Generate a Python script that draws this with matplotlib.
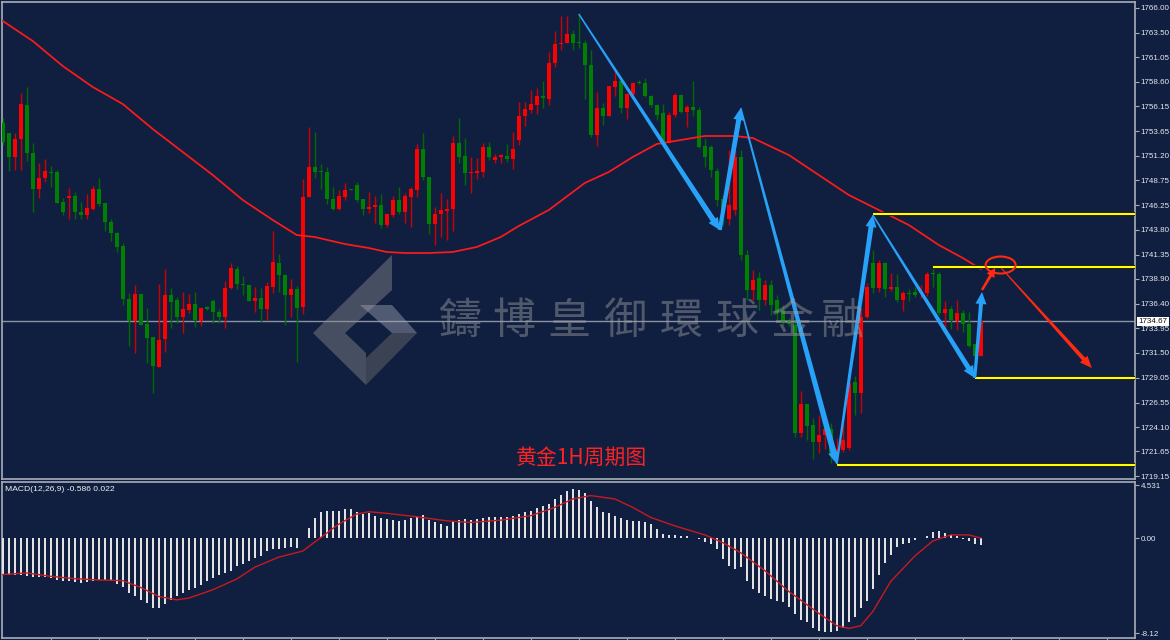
import numpy as np
import matplotlib
matplotlib.use('Agg')
import matplotlib.pyplot as plt
from matplotlib.patches import Polygon, Ellipse
from matplotlib.transforms import IdentityTransform, blended_transform_factory
import matplotlib.patheffects as pe

# 1H gold candles (open, high, low, close)
opens = [1754.5, 1753.5, 1751.1, 1752.9, 1756.3, 1751.5, 1747.9, 1749.0, 1749.6, 1749.6,
         1746.6, 1747.0, 1747.2, 1745.6, 1745.3, 1745.9, 1747.9, 1746.5, 1744.6, 1743.5,
         1742.2, 1736.9, 1734.7, 1737.4, 1734.4, 1733.1, 1730.1, 1732.9, 1737.3, 1736.8,
         1735.1, 1735.8, 1736.4, 1734.7, 1736.1, 1736.7, 1735.6, 1735.1, 1738.0, 1739.9,
         1738.4, 1738.3, 1736.7, 1737.0, 1735.9, 1738.1, 1740.5, 1739.3, 1737.3, 1737.9,
         1736.1, 1747.1, 1750.1, 1749.7, 1749.6, 1746.9, 1745.9, 1747.1, 1747.9, 1748.3,
         1746.9, 1745.9, 1746.1, 1746.3, 1744.3, 1745.3, 1746.8, 1745.6, 1747.1, 1747.8,
         1751.9, 1749.1, 1744.4, 1745.4, 1745.7, 1745.9, 1752.5, 1751.2, 1749.5, 1749.5,
         1749.6, 1752.1, 1750.8, 1751.1, 1751.2, 1750.9, 1752.8, 1755.2, 1755.8, 1756.3,
         1757.2, 1756.9, 1760.5, 1762.4, 1762.5, 1763.4, 1762.6, 1762.5, 1760.3, 1753.3,
         1756.0, 1755.2, 1758.1, 1758.7, 1756.0, 1757.4, 1758.6, 1758.5, 1757.2, 1756.3,
         1755.5, 1752.5, 1755.3, 1757.3, 1755.6, 1756.1, 1755.8, 1752.2, 1752.1, 1749.7,
         1746.9, 1744.9, 1745.8, 1751.1, 1741.3, 1737.8, 1739.0, 1736.8, 1738.3, 1736.8,
         1735.8, 1734.7, 1734.3, 1723.5, 1726.4, 1724.3, 1722.6, 1723.3, 1723.9, 1721.3,
         1721.8, 1722.0, 1728.6, 1727.5, 1735.1, 1740.5, 1738.0, 1740.5, 1737.9, 1738.1,
         1736.8, 1737.5, 1737.6, 1737.5, 1737.5, 1739.5, 1739.4, 1735.5, 1735.9, 1734.7,
         1735.5, 1734.4, 1732.4, 1731.2]
highs = [1755.0, 1753.5, 1753.5, 1757.5, 1758.1, 1752.5, 1750.5, 1750.9, 1750.2, 1749.8,
         1747.0, 1748.0, 1747.6, 1746.6, 1747.4, 1748.2, 1749.0, 1746.5, 1744.9, 1743.6,
         1742.5, 1737.5, 1738.3, 1737.4, 1736.0, 1733.1, 1738.4, 1739.9, 1738.0, 1737.1,
         1737.6, 1737.4, 1737.6, 1736.0, 1736.2, 1736.9, 1735.9, 1738.7, 1740.5, 1740.2,
         1739.2, 1738.3, 1738.1, 1738.0, 1738.6, 1743.7, 1741.4, 1739.4, 1738.9, 1738.2,
         1748.9, 1754.1, 1753.6, 1750.4, 1750.1, 1748.1, 1747.8, 1748.5, 1747.9, 1748.6,
         1746.9, 1747.6, 1747.2, 1747.4, 1745.4, 1747.2, 1748.1, 1747.5, 1748.1, 1752.4,
         1753.5, 1749.1, 1746.1, 1747.5, 1746.9, 1753.2, 1755.0, 1753.0, 1751.1, 1751.0,
         1752.5, 1752.6, 1751.4, 1751.4, 1752.4, 1753.6, 1756.6, 1756.6, 1757.8, 1758.0,
         1758.7, 1761.6, 1763.7, 1765.2, 1765.2, 1763.8, 1765.5, 1762.8, 1761.8, 1757.6,
         1756.5, 1758.2, 1759.6, 1758.8, 1757.5, 1758.6, 1758.8, 1759.0, 1757.3, 1756.4,
         1756.4, 1755.6, 1757.5, 1757.4, 1756.3, 1758.7, 1756.1, 1753.0, 1752.3, 1750.0,
         1747.3, 1751.8, 1751.8, 1751.8, 1741.8, 1739.8, 1739.6, 1738.8, 1738.8, 1737.3,
         1736.3, 1735.0, 1734.8, 1727.7, 1726.4, 1725.0, 1725.3, 1725.0, 1724.5, 1723.0,
         1724.6, 1729.5, 1729.2, 1736.0, 1738.5, 1741.8, 1740.8, 1740.6, 1739.5, 1739.4,
         1737.7, 1737.9, 1738.1, 1738.3, 1739.6, 1740.1, 1739.6, 1736.7, 1736.2, 1736.8,
         1735.8, 1735.6, 1732.4, 1734.7]
lows = [1752.3, 1749.7, 1749.8, 1749.8, 1750.7, 1745.6, 1747.0, 1748.6, 1748.1, 1746.5,
        1745.3, 1744.9, 1744.9, 1744.9, 1744.9, 1745.8, 1746.2, 1743.7, 1742.7, 1741.6,
        1736.3, 1732.2, 1731.5, 1734.3, 1730.5, 1727.5, 1730.1, 1731.6, 1734.0, 1734.5,
        1733.5, 1735.5, 1734.1, 1734.2, 1735.8, 1734.5, 1734.5, 1734.0, 1737.9, 1737.9,
        1737.3, 1736.7, 1735.6, 1734.6, 1734.8, 1737.5, 1737.6, 1734.3, 1735.1, 1730.6,
        1735.4, 1747.1, 1749.0, 1747.9, 1746.4, 1745.8, 1745.8, 1746.8, 1747.8, 1746.6,
        1745.3, 1745.5, 1744.5, 1744.0, 1744.1, 1745.1, 1745.4, 1744.5, 1744.1, 1747.1,
        1748.8, 1743.4, 1742.3, 1743.1, 1742.8, 1743.7, 1750.5, 1748.3, 1747.5, 1748.9,
        1749.1, 1750.8, 1750.5, 1750.5, 1750.6, 1749.9, 1752.3, 1754.2, 1755.5, 1755.4,
        1756.0, 1756.3, 1760.1, 1761.8, 1762.5, 1761.8, 1762.0, 1756.9, 1753.1, 1752.2,
        1754.3, 1755.2, 1757.2, 1755.5, 1754.9, 1757.1, 1758.4, 1757.1, 1756.1, 1754.8,
        1752.5, 1752.5, 1755.1, 1755.5, 1754.1, 1755.2, 1752.0, 1750.1, 1749.1, 1746.2,
        1744.3, 1744.3, 1745.3, 1740.8, 1736.8, 1736.8, 1735.8, 1736.3, 1735.3, 1734.8,
        1734.3, 1734.2, 1723.1, 1723.1, 1722.8, 1720.9, 1721.5, 1721.9, 1720.5, 1721.0,
        1721.6, 1721.8, 1725.3, 1725.5, 1735.0, 1737.5, 1737.6, 1737.1, 1737.7, 1736.6,
        1735.7, 1736.7, 1737.1, 1737.0, 1737.2, 1738.1, 1735.3, 1734.0, 1733.9, 1733.8,
        1733.6, 1732.1, 1730.1, 1731.2]
closes = [1752.6, 1751.1, 1752.9, 1756.4, 1751.5, 1747.9, 1749.0, 1749.7, 1749.5, 1746.5,
          1745.6, 1747.2, 1745.6, 1745.3, 1746.0, 1747.9, 1746.4, 1744.6, 1743.5, 1742.1,
          1736.9, 1734.7, 1737.4, 1734.3, 1733.0, 1730.2, 1732.8, 1737.3, 1736.6, 1735.1,
          1735.9, 1736.4, 1734.8, 1736.0, 1735.9, 1735.6, 1735.1, 1738.0, 1740.0, 1738.4,
          1738.3, 1736.7, 1737.0, 1735.9, 1738.2, 1740.6, 1739.3, 1737.3, 1737.9, 1736.0,
          1747.1, 1750.1, 1749.6, 1749.6, 1746.9, 1745.9, 1747.2, 1747.8, 1747.8, 1746.8,
          1745.9, 1746.1, 1746.3, 1744.3, 1745.4, 1746.8, 1745.6, 1747.2, 1747.9, 1751.9,
          1749.1, 1744.4, 1745.4, 1745.8, 1745.9, 1752.5, 1751.1, 1749.5, 1749.6, 1749.7,
          1752.1, 1751.1, 1751.1, 1751.3, 1750.9, 1751.9, 1755.2, 1755.9, 1756.4, 1757.2,
          1757.0, 1760.5, 1762.4, 1762.5, 1763.4, 1762.5, 1762.5, 1760.3, 1753.3, 1756.0,
          1755.2, 1758.2, 1758.7, 1756.0, 1757.4, 1758.5, 1758.5, 1757.2, 1756.3, 1755.3,
          1752.6, 1755.3, 1757.3, 1755.6, 1756.1, 1755.8, 1752.1, 1751.1, 1749.8, 1746.8,
          1745.6, 1746.3, 1751.1, 1741.3, 1737.8, 1738.8, 1736.8, 1738.3, 1736.3, 1735.6,
          1734.6, 1734.4, 1723.5, 1726.4, 1724.2, 1722.6, 1723.3, 1723.9, 1721.3, 1721.9,
          1722.8, 1728.5, 1727.5, 1735.1, 1738.1, 1738.0, 1740.5, 1737.9, 1738.1, 1736.8,
          1737.5, 1737.4, 1737.3, 1737.6, 1739.4, 1739.4, 1735.5, 1735.9, 1734.8, 1735.5,
          1734.4, 1732.2, 1731.2, 1734.67]

# moving average (red line), read at some candle positions
ma_idx = [0, 5, 10, 15, 20, 25, 30, 35, 40, 45, 49, 52, 57, 61, 64, 67, 71, 75, 79, 83,
          86, 91, 97, 101, 105, 109, 113, 117, 122, 125, 131, 136, 141, 146, 151, 156, 160, 163]
ma_val = [1764.7, 1762.7, 1760.2, 1758.1, 1756.4, 1753.9, 1751.6, 1749.3, 1746.8, 1744.8,
          1743.3, 1743.1, 1742.4, 1742.0, 1741.6, 1741.5, 1741.5, 1741.6, 1742.1, 1743.1,
          1744.2, 1745.8, 1748.5, 1749.6, 1751.1, 1752.4, 1752.8, 1753.2, 1753.2, 1753.0,
          1751.3, 1749.3, 1747.3, 1745.8, 1744.3, 1742.3, 1741.0, 1739.9]

# MACD(12,26,9) histogram, one per candle
macd_hist = [-3.05, -3.10, -3.10, -3.16, -3.22, -3.28, -3.33, -3.33, -3.39, -3.53,
             -3.62, -3.68, -3.76, -3.82, -3.74, -3.62, -3.56, -3.59, -3.68, -3.91,
             -4.20, -4.68, -4.97, -5.26, -5.55, -5.92, -5.92, -5.63, -5.26, -4.97,
             -4.68, -4.40, -4.25, -3.97, -3.68, -3.39, -3.10, -2.96, -2.76, -2.39,
             -2.18, -1.90, -1.67, -1.52, -1.09, -0.95, -0.95, -0.80, -0.75, -0.80,
             0.05, 0.92, 1.72, 2.21, 2.30, 2.30, 2.36, 2.50, 2.50, 2.21,
             2.07, 2.13, 1.93, 1.72, 1.64, 1.55, 1.44, 1.55, 1.72, 1.84,
             1.95, 1.55, 1.35, 1.26, 1.06, 1.49, 1.55, 1.61, 1.55, 1.61,
             1.72, 1.78, 1.84, 1.78, 1.84, 1.90, 2.07, 2.21, 2.36, 2.59,
             2.79, 2.93, 3.36, 3.74, 4.02, 4.17, 4.14, 3.85, 3.22, 2.70,
             2.21, 2.13, 1.93, 1.72, 1.55, 1.49, 1.44, 1.35, 1.21, 0.78,
             0.40, 0.29, 0.26, 0.20, 0.17, 0.06, -0.09, -0.29, -0.52, -0.95,
             -1.81, -2.39, -2.59, -2.47, -3.68, -4.31, -4.68, -4.97, -5.17, -5.34,
             -5.46, -5.83, -6.49, -6.98, -7.18, -7.70, -7.93, -8.05, -7.99, -7.93,
             -7.70, -7.13, -6.70, -5.98, -5.34, -4.31, -3.10, -2.10, -1.44, -0.75,
             -0.52, -0.37, -0.11, 0.06, 0.20, 0.57, 0.63, 0.46, 0.29, 0.17,
             -0.06, -0.23, -0.46, -0.59]
sig_idx = [0, 4, 8, 12, 16, 20, 23, 26, 29, 31, 35, 39, 42, 46, 50, 53, 56, 59, 61, 64,
           69, 74, 78, 83, 88, 92, 95, 98, 102, 105, 108, 112, 117, 120, 123, 127, 131, 136,
           139, 141, 143, 145, 148, 152, 155, 158, 161, 163]
sig_val = [-3.10, -2.96, -3.25, -3.45, -3.56, -3.62, -4.20, -4.97, -5.26, -5.11, -4.40, -3.48,
           -2.47, -1.61, -1.09, 0.06, 1.21, 2.07, 2.27, 2.13, 1.84, 1.49, 1.35, 1.55, 1.93,
           2.64, 3.36, 3.65, 3.36, 2.64, 1.78, 1.06, 0.29, -0.37, -1.24, -2.76, -4.54, -6.41,
           -7.47, -7.70, -7.47, -6.26, -3.68, -1.52, -0.23, 0.29, 0.29, 0.02]

price_ticks = [1766.00, 1763.50, 1761.05, 1758.60, 1756.15, 1753.65, 1751.20, 1748.75,
               1746.25, 1743.80, 1741.35, 1738.90, 1736.40, 1733.95, 1731.50, 1729.05,
               1726.55, 1724.10, 1721.65, 1719.15]
macd_ticks = [4.531, 0.0, -8.12]
macd_tick_labels = ['4.531', '0.00', '-8.12']
last_price = 1734.67

# drawn analysis: blue zigzag, yellow levels, red projection
zigzag = [(96, 1765.4), (119.5, 1743.8), (123, 1756.0), (139, 1720.4),
          (145, 1745.3), (162, 1729.0), (163.2, 1737.6)]
levels = [1745.4, 1740.1, 1729.0, 1720.3]
level_start = [145, 155, 162, 139]
proj_up = [(163.2, 1737.8), (165.4, 1740.0)]
proj_down = [(166.4, 1740.0), (181.5, 1730.0)]
circle_at = (166.3, 1740.3)

bg = '#101f40'
edge = '#a8adb8'
W, H = 1170, 640

plt.rcParams['font.family'] = ['Liberation Sans', 'DejaVu Sans', 'Noto Sans CJK SC']

fig = plt.figure(figsize=(W / 100, H / 100), dpi=100, facecolor=bg)
ax = fig.add_axes([2 / W, 1 - 479 / H, 1133 / W, 477 / H], facecolor=bg)
ax2 = fig.add_axes([2 / W, 1 - 638 / H, 1133 / W, 156 / H], facecolor=bg)

for a in (ax, ax2):
    a.set_xlim(-0.12, 188.7)
    for s in a.spines.values():
        s.set_color(edge)
        s.set_linewidth(1.2)
ax.set_ylim(1718.9, 1766.6)
ax2.set_ylim(-8.52, 4.81)

# candles
x = np.arange(len(opens))
o, h, l, c = map(np.array, (opens, highs, lows, closes))
up = c >= o
body_col = np.where(up, '#ff0000', '#008000')
wick_col = np.where(up, '#d00000', '#006a00')
ax.vlines(x, l, h, colors=wick_col, linewidth=1, zorder=3)
ax.bar(x, np.maximum(np.abs(c - o), 0.12), bottom=np.minimum(o, c), width=0.62,
       color=body_col, linewidth=0, zorder=4)

ax.plot(ma_idx, ma_val, color='#ff1a1a', lw=1.25, zorder=5)
ax.axhline(last_price, color='#8993a5', lw=1, zorder=2)

# watermark
wm_chars = '鑄博皇御環球金融'
wm_x = [460, 514, 569, 625, 681, 737, 792, 842]
for ch, px in zip(wm_chars, wm_x):
    fig.text(px / W, 1 - 322 / H, ch, color='#a0a0a0', alpha=0.45, fontsize=31,
             family=['Noto Sans CJK TC', 'DejaVu Sans'], ha='center', va='center', zorder=1)
logo = [
    ([(392, 255), (392, 290), (345, 333), (366, 353), (366, 385), (313, 333)], '#8a8a8a', 0.45),
    ([(360, 305), (392, 305), (417, 333), (392, 333)], '#a0a4b0', 0.45),
    ([(392, 333), (417, 333), (366, 385), (366, 358)], '#6e6e6e', 0.45),
]
for pts, col, al in logo:
    fig.patches.append(Polygon([(px, H - py) for px, py in pts], closed=True,
                               transform=IdentityTransform(), facecolor=col, alpha=al,
                               edgecolor='none', zorder=1))


def taper(p0, p1, w0, w1, hw, hl, color):
    a = ax.transData.transform(p0)
    b = ax.transData.transform(p1)
    d = b - a
    u = d / np.hypot(*d)
    n = np.array([-u[1], u[0]])
    base = b - u * hl
    pts = [a + n * w0 / 2, base + n * w1 / 2, base + n * hw / 2, b,
           base - n * hw / 2, base - n * w1 / 2, a - n * w0 / 2]
    ax.add_patch(Polygon(pts, closed=True, transform=IdentityTransform(),
                         facecolor=color, edgecolor='none', zorder=7))


blue = '#27a2f8'
widths = [(1.5, 5.5), (4, 5), (1.5, 6), (2, 5), (1.5, 5), (3, 4)]
for (p0, p1), (w0, w1) in zip(zip(zigzag[:-1], zigzag[1:]), widths):
    taper(p0, p1, w0, w1, 11, 12, blue)

ax.hlines(levels, level_start, 188.7, color='#ffff00', lw=1.5, zorder=6,
          path_effects=[pe.Stroke(linewidth=3, foreground='#1a1a1a'), pe.Normal()])

red = '#ff2a10'
taper(proj_up[0], proj_up[1], 2.5, 3, 9, 9, red)
taper(proj_down[0], proj_down[1], 1, 4, 10, 12, red)
ax.add_patch(Ellipse(circle_at, 5, 1.7, fill=False, edgecolor=red, lw=1.5, zorder=7))

ax.text(96.4, 1721.0, '黄金1H周期图', color='#ff2222', fontsize=15,
        family=['Noto Sans CJK SC', 'DejaVu Sans'], ha='center', va='center', zorder=8)

# price axis
ax.yaxis.tick_right()
ax.set_yticks(price_ticks)
ax.set_yticklabels([f'{v:.2f}' for v in price_ticks])
ax.set_xticks([])
ax.tick_params(axis='y', colors=edge, labelcolor='#e6e9ef', labelsize=5.8, length=3,
               width=0.8, pad=1)
tr = blended_transform_factory(ax.transAxes, ax.transData)
ax.text(1.0032, last_price, f'{last_price:.2f}', transform=tr, fontsize=5.8, color='#101010',
        ha='left', va='center', zorder=9,
        bbox=dict(boxstyle='square,pad=0.15', facecolor='white', edgecolor='none'))

# MACD panel
ax2.bar(x, macd_hist, width=0.38, color='#e2e2e2', linewidth=0, zorder=3)
ax2.plot(sig_idx, sig_val, color='#c8191e', lw=1.0, zorder=4)
ax2.yaxis.tick_right()
ax2.set_yticks(macd_ticks)
ax2.set_yticklabels(macd_tick_labels)
ax2.set_xticks(np.arange(8, 188, 8))
ax2.set_xticklabels([])
ax2.tick_params(axis='y', colors=edge, labelcolor='#e6e9ef', labelsize=5.8, length=3,
                width=0.8, pad=1)
ax2.tick_params(axis='x', colors=edge, length=2, width=0.8)
ax2.text(0.003, 0.955, 'MACD(12,26,9) -0.586 0.022', transform=ax2.transAxes, fontsize=6.1,
         color='#f0f0f0', ha='left', va='center')

fig.savefig('out.png', dpi=100, facecolor=bg)
